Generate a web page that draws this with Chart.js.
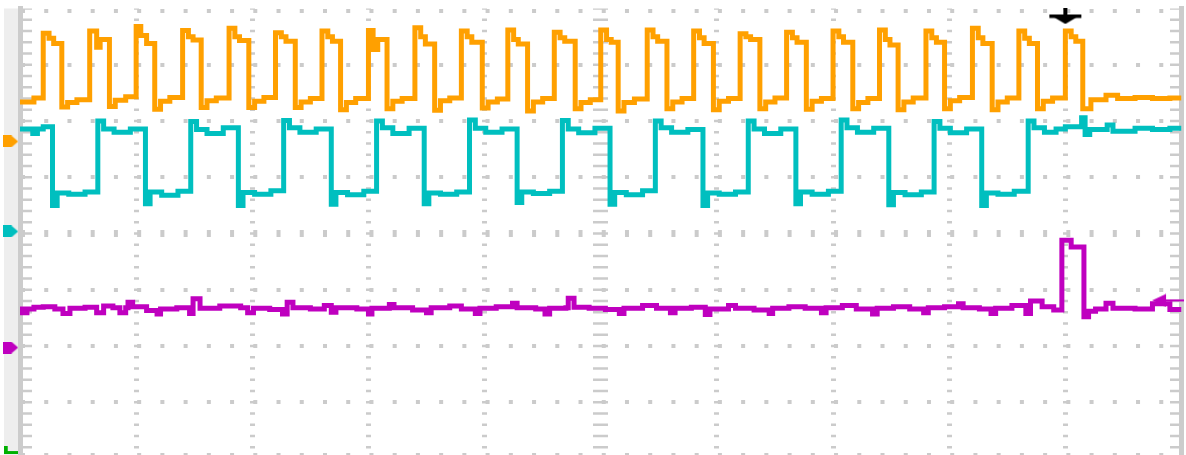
<!DOCTYPE html>
<html><head><meta charset="utf-8">
<script src="https://cdn.jsdelivr.net/npm/chart.js@4"></script>
<style>html,body{margin:0;padding:0;background:#fff;overflow:hidden;}#wrap{width:1186px;height:470px;}canvas{display:block;}</style>
</head><body><div id="wrap"><canvas id="c" width="1186" height="470"></canvas></div>
<script>
// Time in hundredths of a division (10 divisions = 1000), levels in divisions (0..8).
const xGridValues = [6, 100, 200, 300, 400, 500, 600, 700, 800, 900, 994];
const yGridValues = [7.956, 7, 6, 5, 4, 3, 2, 1, 0.05];

const orangeT = [0,12,
 20,25,29,36,41,49, 60,66,69,77,82,91, 100,104,109,116,121,129, 140,145,149,156,161,169,
 180,185,189,197,202,210, 220,225,229,237,242,250, 260,265,269,276,281,289, 300,304,308,316,321,329,
 340,345,349,357,362,370, 380,385,389,398,403,411, 420,425,429,437,442,450, 460,465,469,478,483,491,
 500,505,509,515,520,529, 540,545,549,557,562,570, 580,585,589,597,602,610, 620,625,629,637,642,650,
 660,665,669,677,682,690, 700,705,709,717,722,730, 740,745,749,756,761,769, 780,785,789,796,801,809,
 820,825,829,837,842,850, 860,865,869,876,881,889, 900,905,909,915,922,935,945,960,975,990,1000];
const orangeV = [6.34,6.41,
 7.56,7.47,7.38,6.25,6.33,6.38, 7.60,7.31,7.45,6.26,6.37,6.43, 7.68,7.52,7.38,6.21,6.35,6.42, 7.61,7.50,7.44,6.24,6.36,6.41,
 7.65,7.50,7.43,6.24,6.35,6.42, 7.57,7.50,7.42,6.24,6.34,6.40, 7.60,7.50,7.42,6.20,6.33,6.40, 7.61,7.27,7.45,6.22,6.35,6.40,
 7.66,7.50,7.37,6.19,6.36,6.41, 7.60,7.50,7.40,6.23,6.34,6.39, 7.62,7.45,7.37,6.18,6.34,6.40, 7.58,7.48,7.42,6.22,6.33,6.38,
 7.62,7.45,7.40,6.18,6.33,6.39, 7.62,7.50,7.42,6.22,6.34,6.40, 7.60,7.48,7.38,6.20,6.35,6.40, 7.55,7.50,7.45,6.22,6.34,6.41,
 7.58,7.48,7.40,6.21,6.35,6.40, 7.60,7.50,7.40,6.22,6.33,6.40, 7.62,7.45,7.35,6.20,6.34,6.41, 7.60,7.48,7.40,6.22,6.36,6.42,
 7.65,7.48,7.38,6.20,6.34,6.41, 7.60,7.47,7.38,6.22,6.35,6.41, 7.60,7.50,7.42,6.22,6.38,6.46,6.40,6.42,6.40,6.41,6.41];

const tealT = [0,11,15,20,
 28,32,42,56,67,72,81,95, 108,112,122,136,147,152,161,175, 188,192,202,216,227,232,241,255,
 268,272,282,296,307,312,321,335, 348,352,362,376,387,392,401,415, 428,432,442,456,467,472,481,495,
 508,512,522,536,547,552,561,575, 588,592,602,616,627,632,641,655, 668,672,682,696,707,712,721,735,
 748,752,762,776,787,792,801,815, 828,832,842,856,868,873,882,892,
 900,914,917,921,936,941,960,975,990,1000];
const tealV = [5.86,5.78,5.86,5.90,
 4.50,4.72,4.70,4.74,6.00,5.86,5.80,5.86, 4.53,4.74,4.68,4.75,5.99,5.85,5.78,5.88, 4.50,4.73,4.70,4.76,6.01,5.88,5.80,5.86,
 4.52,4.73,4.69,4.75,6.00,5.88,5.78,5.87, 4.53,4.72,4.70,4.74,6.02,5.87,5.80,5.86, 4.55,4.74,4.71,4.75,6.01,5.86,5.79,5.87,
 4.52,4.73,4.69,4.76,6.00,5.88,5.80,5.85, 4.50,4.72,4.70,4.74,6.00,5.86,5.78,5.86, 4.53,4.74,4.70,4.75,6.02,5.88,5.80,5.87,
 4.51,4.73,4.69,4.74,5.99,5.87,5.79,5.86, 4.50,4.72,4.70,4.75,6.00,5.88,5.80,5.86,
 5.90,6.06,5.76,5.85,5.93,5.82,5.87,5.85,5.87,5.87];

const magT = [0,2,6,12,20,30,37,43,56,66,72,80,86,91,93,97,109,118,121,135,146,149,155,172,190,196,201,215,226,230,235,
 250,262,268,272,290,300,303,318,322,338,350,354,370,380,392,396,410,424,428,444,452,456,470,472,477,490,
 504,516,520,536,548,560,564,578,590,594,610,616,632,645,648,662,676,690,694,708,720,734,738,752,766,778,782,
 796,808,812,826,836,840,854,866,870,880,890,
 897,905,916,920,926,935,941,960,975,990,1000];
const magV = [2.66,2.59,2.66,2.69,2.70,2.66,2.58,2.67,2.69,2.59,2.71,2.68,2.59,2.68,2.78,2.70,2.63,2.57,2.66,2.68,2.58,2.84,2.67,2.71,2.68,2.59,2.67,2.65,2.57,2.78,2.68,
 2.66,2.72,2.60,2.68,2.66,2.57,2.67,2.74,2.68,2.64,2.59,2.68,2.71,2.66,2.58,2.67,2.70,2.76,2.68,2.66,2.57,2.67,2.68,2.85,2.69,2.67,
 2.65,2.58,2.67,2.72,2.67,2.59,2.67,2.69,2.56,2.66,2.72,2.67,2.64,2.58,2.67,2.70,2.67,2.59,2.68,2.72,2.66,2.57,2.67,2.70,2.66,2.59,2.68,
 2.70,2.75,2.68,2.66,2.58,2.67,2.72,2.58,2.80,2.70,2.64,
 3.88,3.76,2.52,2.62,2.66,2.76,2.67,2.66,2.75,2.65,2.65];

const groundLevels = [5.636, 4.036, 1.973];
const refLevel = 0.151;
const triggerTime = 900;
const triggerLevel = 2.81;

const ORANGE = '#ffa000', TEAL = '#00bfbf', MAGENTA = '#bf00bf', GREEN = '#00b000';

function glyph(w, h, color, draw) {
  const c = document.createElement('canvas');
  c.width = w; c.height = h;
  const g = c.getContext('2d');
  g.fillStyle = color; g.strokeStyle = color;
  draw(g);
  return c;
}
const flag = color => glyph(15, 12, color, g => {
  g.beginPath(); g.moveTo(0,0); g.lineTo(8,0); g.lineTo(15,6); g.lineTo(8,12); g.lineTo(0,12); g.closePath(); g.fill();
});
const lGlyph = glyph(14, 8, GREEN, g => { g.fillRect(0,0,4,8); g.fillRect(0,5,14,3); });
const tGlyph = glyph(34, 16, '#000', g => {
  g.fillRect(15,0,4,7);
  g.fillRect(1,6,32,3.5);
  g.beginPath(); g.moveTo(6,9); g.lineTo(28,9); g.lineTo(17,15.5); g.closePath(); g.fill();
});
const levelGlyph = glyph(32, 14, MAGENTA, g => {
  g.beginPath(); g.moveTo(0,7); g.lineTo(14,0.5); g.lineTo(14,13.5); g.closePath(); g.fill();
  g.fillRect(14,6,18,2);
});

const pts = (T, V) => T.map((t, i) => ({x: t, y: V[i]}));
const trace = (T, V, color) => ({
  type: 'line', data: pts(T, V), borderColor: color, borderWidth: 5, pointRadius: 0,
  stepped: true, borderJoinStyle: 'miter', borderCapStyle: 'butt', fill: false, tension: 0
});
const marker = (x, y, style) => ({
  type: 'line', data: [{x: x, y: y}], showLine: false, pointStyle: style,
  pointRadius: 14, pointBorderWidth: 0, clip: false
});
const MX = -8; // left margin marker column

new Chart(document.getElementById('c'), {
  type: 'line',
  data: {
    datasets: [
      marker(MX, groundLevels[0], flag(ORANGE)),
      marker(MX, groundLevels[1], flag(TEAL)),
      marker(MX, groundLevels[2], flag(MAGENTA)),
      marker(MX, refLevel, lGlyph),
      marker(triggerTime, 7.858, tGlyph),
      marker(988.4, triggerLevel, levelGlyph),
      trace(orangeT, orangeV, ORANGE),
      trace(tealT, tealV, TEAL),
      trace(magT, magV, MAGENTA)
    ]
  },
  options: {
    responsive: false, animation: false, devicePixelRatio: 1, events: [],
    layout: {autoPadding: false, padding: {top: 8.5, bottom: 11.5, left: 4, right: 4.5}},
    plugins: {legend: {display: false}, tooltip: {enabled: false}},
    scales: {
      x: {
        type: 'linear', position: 'bottom', min: 0, max: 1000,
        afterBuildTicks: s => { s.ticks = xGridValues.map(v => ({value: v})); },
        afterFit: s => { s.height = 0; },
        ticks: {display: false, autoSkip: false},
        grid: {
          color: '#cbcbcb', drawTicks: false,
          lineWidth: c => { const v = c.tick ? c.tick.value : 0; return v === 6 ? 10 : v === 994 ? 9 : v === 500 ? 15 : 5; }
        },
        border: {display: false, dash: [2.5, 8.75], dashOffset: 1.25}
      },
      y: {
        type: 'linear', position: 'left', min: 0, max: 8,
        afterBuildTicks: s => { s.ticks = yGridValues.map(v => ({value: v})); },
        afterFit: s => { s.width = 16; },
        backgroundColor: '#eeeeee',
        ticks: {display: false, autoSkip: false},
        grid: {
          color: '#cbcbcb', drawTicks: false,
          lineWidth: c => { const v = c.tick ? c.tick.value : 1; return v === 4 ? 7 : v < 0.1 ? 6 : 4; }
        },
        border: {display: true, color: '#cccccc', width: 5, dash: [4, 19.23], dashOffset: 2}
      },
      yr: {
        type: 'linear', position: 'right', min: 0, max: 8,
        afterFit: s => { s.width = 0; },
        ticks: {display: false},
        grid: {lineWidth: 0, drawTicks: false},
        border: {display: true, color: '#cccccc', width: 5}
      }
    }
  }
});
</script></body></html>
